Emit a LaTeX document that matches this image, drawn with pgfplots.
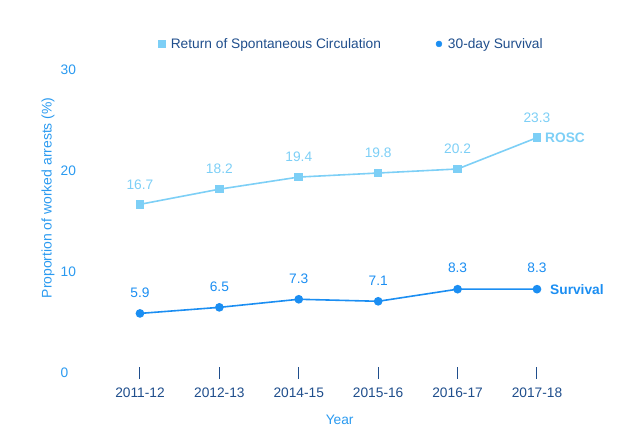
\documentclass[border=0pt]{standalone}
\usepackage{pgfplots}
\pgfplotsset{compat=1.18}
\usepackage{fontspec}
\setmainfont{Liberation Sans}
\definecolor{rosc}{HTML}{7DCFF6}
\definecolor{surv}{HTML}{1B8EF2}
\definecolor{lab}{HTML}{2A9AF0}
\definecolor{dark}{HTML}{1F4E8C}
\newcommand{\cf}{\fontsize{13.8}{16}\selectfont}
\begin{document}
\begin{tikzpicture}
\useasboundingbox (0,0) rectangle (626bp,438bp);
\begin{axis}[
  at={(72bp,65bp)}, anchor=south west,
  scale only axis, width=505bp, height=303bp,
  xmin=-0.856, xmax=5.504, ymin=0, ymax=30,
  axis line style={draw=none},
  xtick={0,1,2,3,4,5},
  xticklabels={2011-12,2012-13,2014-15,2015-16,2016-17,2017-18},
  ytick={0,10,20,30},
  xtick pos=bottom, ytick pos=left,
  tick align=center,
  major tick length=11bp,
  xtick style={dark, line width=1bp},
  ytick style={draw=none},
  font=\cf,
  tick label style={font=\cf},
  xticklabel style={text=dark, anchor=north, inner sep=0pt, yshift=-9bp},
  yticklabel style={text=lab, anchor=west, inner sep=0pt, xshift=-6bp},
  /pgf/number format/assume math mode=true,
  xlabel={Year},
  xlabel style={text=lab, at={(axis description cs:0.530,-0.155)}, anchor=center, inner sep=0pt},
  ylabel={Proportion of worked arrests (\%)},
  ylabel style={text=lab, at={(axis description cs:-0.0475,0.578)}, anchor=center, inner sep=0pt, font=\fontsize{14}{16}\selectfont},
  clip=false,
  legend columns=2,
  legend style={draw=none, fill=none, at={(axis description cs:0.553,1.086)}, anchor=center,
    font=\cf, text=dark,
    /tikz/every even column/.append style={column sep=53bp}},
  legend cell align=left,
]
\addlegendimage{only marks, mark=square*, mark size=3.5bp, color=rosc}
\addlegendentry{\hspace{4bp}Return of Spontaneous Circulation}
\addlegendimage{only marks, mark=*, mark size=3bp, color=surv}
\addlegendentry{\hspace{4bp}30-day Survival}
\addplot[rosc, line width=1.6bp, mark=square*, mark size=3.5bp, forget plot,
  nodes near coords, point meta=explicit symbolic,
  every node near coord/.append style={text=rosc, anchor=center, inner sep=0pt, yshift=20bp, font=\cf}]
  coordinates {(0,16.7)[16.7] (1,18.2)[18.2] (2,19.4)[19.4] (3,19.8)[19.8] (4,20.2)[20.2] (5,23.3)[23.3]};
\addplot[surv, line width=1.6bp, mark=*, mark size=3.5bp, forget plot,
  nodes near coords, point meta=explicit symbolic,
  every node near coord/.append style={text=surv, anchor=center, inner sep=0pt, yshift=21bp, font=\cf}]
  coordinates {(0,5.9)[5.9] (1,6.5)[6.5] (2,7.3)[7.3] (3,7.1)[7.1] (4,8.3)[8.3] (5,8.3)[8.3]};
\node[anchor=west, text=rosc, font=\cf\bfseries, inner sep=0pt] at (axis cs:5,23.3) [xshift=8bp] {ROSC};
\node[anchor=west, text=surv, font=\cf\bfseries, inner sep=0pt] at (axis cs:5,8.3) [xshift=13bp] {Survival};
\end{axis}
\end{tikzpicture}
\end{document}
